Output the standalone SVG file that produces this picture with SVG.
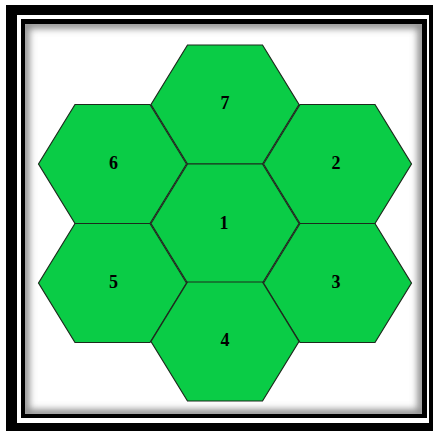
<svg xmlns="http://www.w3.org/2000/svg" width="433" height="431" viewBox="0 0 433 431">
  <style>
    .hex { fill: #0acc46; stroke: #1c2a1c; stroke-width: 1.2; stroke-linejoin: miter; }
    .lbl { font-family: "Liberation Serif", "Times New Roman", serif; font-weight: bold; font-size: 18px; fill: #000; text-anchor: middle; }
  </style>
  <defs>
    <polygon id="hexshape" points="-74,0 -37.5,-59.5 37.5,-59.5 74,0 37.5,59.5 -37.5,59.5"/>
    <clipPath id="inner">
      <rect x="25" y="24" width="397" height="390"/>
    </clipPath>
    <filter id="blur" x="-10%" y="-10%" width="120%" height="120%">
      <feGaussianBlur stdDeviation="3.5"/>
    </filter>
  </defs>

  <!-- frame -->
  <rect x="0" y="0" width="433" height="431" fill="#ffffff"/>
  <rect x="6" y="5" width="427" height="426" fill="#000000"/>
  <rect x="17" y="15" width="412" height="408" fill="#ffffff"/>
  <rect x="21" y="19" width="406" height="399" fill="#000000"/>
  <rect x="25" y="24" width="397" height="390" fill="#ffffff"/>
  <g clip-path="url(#inner)">
    <rect x="25" y="24" width="397" height="390" fill="none" stroke="#8a8a8a" stroke-width="9" filter="url(#blur)"/>
  </g>

  <g id="node-7">
    <use href="#hexshape" class="hex" transform="translate(225,104.5)"/>
    <text class="lbl" x="225" y="109">7</text>
  </g>
  <g id="node-6">
    <use href="#hexshape" class="hex" transform="translate(112.5,164)"/>
    <text class="lbl" x="113.5" y="168.5">6</text>
  </g>
  <g id="node-2">
    <use href="#hexshape" class="hex" transform="translate(337.5,164)"/>
    <text class="lbl" x="336" y="168.5">2</text>
  </g>
  <g id="node-1">
    <use href="#hexshape" class="hex" transform="translate(225,223.5)"/>
    <text class="lbl" x="224" y="228.5">1</text>
  </g>
  <g id="node-5">
    <use href="#hexshape" class="hex" transform="translate(112.5,283)"/>
    <text class="lbl" x="113.5" y="287.5">5</text>
  </g>
  <g id="node-3">
    <use href="#hexshape" class="hex" transform="translate(337.5,283)"/>
    <text class="lbl" x="336" y="287.5">3</text>
  </g>
  <g id="node-4">
    <use href="#hexshape" class="hex" transform="translate(225,341.5)"/>
    <text class="lbl" x="225" y="346">4</text>
  </g>
  <g id="connectors"/>
</svg>
